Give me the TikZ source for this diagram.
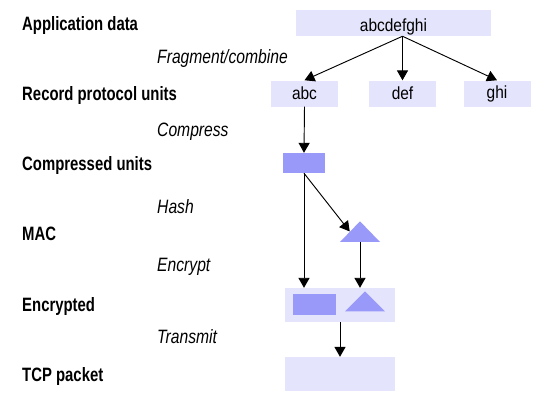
\documentclass[tikz,border=0pt]{standalone}
\usepackage{fontspec}
\setmainfont{Liberation Sans}
\newfontfamily\rowfont{Liberation Sans}[FakeStretch=0.77]
\newfontfamily\opfont{Liberation Sans}[FakeStretch=0.81]
\newfontfamily\boxfont{Liberation Sans}[FakeStretch=0.88]
\usepackage{tikz}
\usetikzlibrary{arrows.meta,shapes.geometric,calc}
\definecolor{pale}{RGB}{228,228,252}
\definecolor{dark}{RGB}{153,153,250}

\begin{document}
\begin{tikzpicture}[
  x=0.03cm, y=-0.03cm,
  >={Triangle[length=8.5pt,width=9.5pt]},
  lvl/.style={anchor=base west, inner sep=0pt, font=\rowfont\fontsize{16.5}{18}\selectfont\bfseries},
  act/.style={anchor=base west, inner sep=0pt, font=\opfont\fontsize{16.5}{18}\selectfont\itshape},
  pkt/.style={fill=pale, minimum height=0.78cm, inner sep=0pt,
              font=\boxfont\fontsize{15}{17}\selectfont},
  blk/.style={fill=dark, inner sep=0pt, minimum width=1.26cm, minimum height=0.6cm},
  tri/.style={fill=dark, isosceles triangle, isosceles triangle stretches,
              shape border rotate=90, inner sep=0pt,
              minimum width=1.2cm, minimum height=0.62cm},
  arr/.style={->, line width=0.8pt},
]
  \useasboundingbox (0,0) rectangle (550,410);

  %% row labels, left column
  \node[lvl] (l_app) at (22,30.5) {Application data};
  \node[lvl] (l_rec) at (22,100)  {Record protocol units};
  \node[lvl] (l_cmp) at (22,170)  {Compressed units};
  \node[lvl] (l_mac) at (22,240)  {MAC};
  \node[lvl] (l_enc) at (22,311)  {Encrypted};
  \node[lvl] (l_tcp) at (22,381)  {TCP packet};

  %% operations, italic
  \node[act] (o_frag) at (157,63)  {Fragment/combine};
  \node[act] (o_comp) at (157,136) {Compress};
  \node[act] (o_hash) at (157,213) {Hash};
  \node[act] (o_encr) at (157,271) {Encrypt};
  \node[act] (o_tran) at (157,343) {Transmit};

  %% data
  \node[pkt, minimum width=5.85cm, text height=15pt, text depth=0pt] (app) at (393.5,23) {abcdefghi};
  \node[pkt, minimum width=2.01cm] (abc) at (304.5,93.5) {abc};
  \node[pkt, minimum width=2.01cm] (def) at (402.5,93.5) {def};
  \node[pkt, minimum width=2.01cm] (ghi) at (497,93.5)   {ghi};
  \node[blk] (comp) at (304,163) {};
  \node[tri] (mac) at (360,233.5) {};
  \coordinate (split) at (def.north |- app.south);

  %% encrypted record and packet
  \node[pkt, minimum width=3.3cm, minimum height=1.02cm] (enc) at (340,305) {};
  \node[blk, minimum width=1.29cm, minimum height=0.63cm] (enc_d) at (314.5,304.5) {};
  \node[tri, minimum height=0.6cm] (enc_m) at (365,303) {};
  \node[pkt, minimum width=3.3cm, minimum height=1.02cm] (tcp) at (340,374) {};

  %% arrows
  \draw[arr] (split) -- (abc.north);
  \draw[arr] (split) -- (def.north);
  \draw[arr] (split) -- (ghi.north);
  \draw[arr] (abc.south) -- (comp.north);
  \draw[arr] (comp.south) -- ($(mac.apex)!0.5!(mac.left corner)$);
  \draw[arr] (comp.south) -- (comp.south |- enc.north);
  \draw[arr] (mac.south) -- (mac.south |- enc.north);
  \draw[arr] (enc.south) -- (tcp.north);
\end{tikzpicture}
\end{document}
